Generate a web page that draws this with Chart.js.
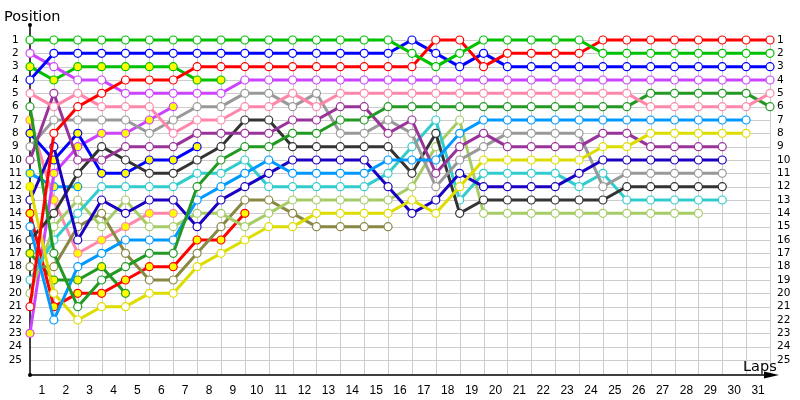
<!DOCTYPE html>
<html>
<head>
<meta charset="utf-8">
<script src="https://cdn.jsdelivr.net/npm/chart.js@4/dist/chart.umd.min.js"></script>
<style>
  html, body { margin: 0; padding: 0; background: #fff; }
  #wrap { width: 800px; height: 400px; }
</style>
</head>
<body>
<div id="wrap"><canvas id="chart" width="800" height="400"></canvas></div>
<script>
// tick labels
const lapLabels = ["1","2","3","4","5","6","7","8","9","10","11","12","13","14","15","16",
  "17","18","19","20","21","22","23","24","25","26","27","28","29","30","31"];
const positionLabels = [1,2,3,4,5,6,7,8,9,10,11,12,13,14,15,16,17,18,19,20,21,22,23,24,25];

// position per lap, index 0 = grid, missing laps = retired
const green1  = [1,1,1,1,1,1,1,1,1,1,1,1,1,1,1,1,2,3,2,1,1,1,1,1,2,2,2,2,2,2,2,2];
const green2  = [3,4,3,3,3,3,3,4,4];
const blue1   = [4,2,2,2,2,2,2,2,2,2,2,2,2,2,2,2,1,2,3,2,3,3,3,3,3,3,3,3,3,3,3,3];
const blue2   = [8,10,8,11,11,10,10,9];
const red1    = [21,8,6,5,4,4,4,3,3,3,3,3,3,3,3,3,3,1,1,3,2,2,2,2,1,1,1,1,1,1,1,1];
const red2    = [14,21,20,20,19,18,18,16,16,14];
const violet1 = [2,3,4,4,5,5,5,5,5,4,4,4,4,4,4,4,4,4,4,4,4,4,4,4,4,4,4,4,4,4,4,4];
const violet2 = [23,11,9,8,8,7,6];
const pink1   = [5,6,5,6,6,6,8,7,7,6,6,5,6,5,5,5,5,5,5,5,5,5,5,5,5,5,6,6,6,6,6,5];
const pink2   = [7,13,17,16,15,14,14];
const forest1 = [6,17,21,19,18,17,17,12,10,9,9,8,8,7,7,6,6,6,6,6,6,6,6,6,6,6,5,5,5,5,5,6];
const forest2 = [17,19,19,18,20];
const grey1   = [9,7,7,7,7,8,7,6,6,5,5,6,5,8,8,7,8,12,10,9,8,8,8,8,12,11,11,11,11,11];
const purple1 = [10,5,10,10,9,9,9,8,8,8,8,7,7,6,6,8,7,11,9,8,9,9,9,9,8,8,9,9,9,9];
const sky1    = [15,22,18,17,16,16,16,13,12,11,10,11,11,11,11,10,10,10,8,7,7,7,7,7,7,7,7,7,7,7,7];
const sky2    = [11,12,12];
const yellow1 = [12,20,22,21,21,20,20,18,17,16,15,15,14,14,14,14,13,14,12,10,10,10,10,10,9,9,8,8,8,8,8];
const navy1   = [13,9,16,13,14,13,13,15,13,12,11,10,10,10,10,12,14,13,11,12,12,12,12,11,10,10,10,10,10,10];
const black1  = [16,14,11,9,10,11,11,10,9,7,7,9,9,9,9,9,11,8,14,13,13,13,13,13,13,12,12,12,12,12];
const cyan1   = [19,16,14,12,12,12,12,11,11,10,12,12,12,12,12,11,9,7,13,11,11,11,11,12,11,13,13,13,13,13];
const olive1  = [18,18,15,14,17,19,19,17,15,13,13,14,15,15,15,15];
const lime1   = [20,15,13,15,13,15,15,14,14,15,14,13,13,13,13,13,12,9,7,14,14,14,14,14,14,14,14,14,14];

const YELLOW = "#ffff00";
const drivers = [
  { data: green1,  color: "#00c000" },
  { data: red1,    color: "#ff0000" },
  { data: blue1,   color: "#0000ff" },
  { data: violet1, color: "#cc44ff" },
  { data: pink1,   color: "#ff88aa" },
  { data: forest1, color: "#229922" },
  { data: sky1,    color: "#0099ff" },
  { data: yellow1, color: "#dddd00", gridFilled: true },
  { data: purple1, color: "#993399" },
  { data: navy1,   color: "#1a00c0" },
  { data: grey1,   color: "#999999" },
  { data: black1,  color: "#333333" },
  { data: cyan1,   color: "#33cccc" },
  { data: lime1,   color: "#a6cc66" },
  { data: olive1,  color: "#888844" },
  { data: green2,  color: "#00c000", filled: true },
  { data: blue2,   color: "#0000ff", filled: true },
  { data: red2,    color: "#ff0000", filled: true },
  { data: violet2, color: "#cc44ff", filled: true },
  { data: pink2,   color: "#ff88aa", filled: true },
  { data: forest2, color: "#229922", filled: true },
  { data: sky2,    color: "#0099ff", filled: true }
];

const datasets = drivers.map(d => ({
  data: d.data.map((p, lap) => ({ x: lap, y: p })).filter(pt => pt.y != null),
  borderColor: d.color,
  backgroundColor: d.color,
  borderWidth: 3,
  pointRadius: 4,
  pointBorderWidth: 1.2,
  pointBorderColor: d.color,
  pointBackgroundColor: ctx => (d.filled || (d.gridFilled && ctx.dataIndex === 0)) ? YELLOW : "#ffffff",
  tension: 0,
  clip: false
}));

// grid, axis lines with arrow, titles
const decor = {
  id: "decor",
  beforeDatasetsDraw(chart) {
    const { ctx, chartArea, scales: { x, y } } = chart;
    const x0 = x.getPixelForValue(0), x1 = x.getPixelForValue(lapLabels.length);
    const yTop = y.getPixelForValue(1), yBot = chartArea.bottom;
    ctx.save();
    ctx.strokeStyle = "#cccccc";
    ctx.lineWidth = 1;
    ctx.beginPath();
    positionLabels.forEach(p => {
      const py = Math.round(y.getPixelForValue(p)) + 0.5;
      ctx.moveTo(x0, py); ctx.lineTo(x1, py);
    });
    for (let l = 1; l <= lapLabels.length; l++) {
      const px = Math.round(x.getPixelForValue(l)) + 0.5;
      ctx.moveTo(px, yTop); ctx.lineTo(px, yBot);
    }
    ctx.stroke();

    // axes
    ctx.strokeStyle = "#000";
    ctx.fillStyle = "#000";
    ctx.lineWidth = 1.5;
    ctx.beginPath();
    ctx.moveTo(x0, chartArea.top); ctx.lineTo(x0, yBot);
    ctx.moveTo(x0, yBot); ctx.lineTo(x1 + 2, yBot);
    ctx.stroke();
    ctx.beginPath();
    ctx.moveTo(x1 - 6, yBot - 3.5);
    ctx.lineTo(x1 + 9, yBot);
    ctx.lineTo(x1 - 6, yBot + 3.5);
    ctx.closePath();
    ctx.fill();
    ctx.beginPath(); ctx.arc(x0, chartArea.top, 2, 0, Math.PI * 2); ctx.fill();
    ctx.beginPath(); ctx.arc(x0, yBot, 2, 0, Math.PI * 2); ctx.fill();

    ctx.font = '14.5px "DejaVu Sans"';
    ctx.textAlign = "left";
    ctx.textBaseline = "alphabetic";
    ctx.fillText("Position", 4, 21);
    ctx.fillText("Laps", 743, 371);
    ctx.restore();
  }
};

const tickFont = { family: "DejaVu Sans", size: 10.5 };

new Chart(document.getElementById("chart"), {
  type: "line",
  data: { datasets },
  plugins: [decor],
  options: {
    responsive: false,
    animation: false,
    layout: { padding: { top: 25, left: 0, right: 0, bottom: 0 } },
    plugins: { legend: { display: false }, tooltip: { enabled: false } },
    scales: {
      x: {
        type: "linear", min: 0, max: lapLabels.length,
        afterFit(s) { s.height = 25; },
        afterBuildTicks(s) { s.ticks = lapLabels.map((t, i) => ({ value: i + 0.5 })); },
        ticks: {
          autoSkip: false, maxRotation: 0, padding: 8, color: "#000",
          font: { family: "Liberation Sans", size: 12 },
          callback: (v, i) => lapLabels[i]
        },
        grid: { display: false, drawTicks: false },
        border: { display: false }
      },
      y: {
        type: "linear", reverse: true, min: -0.125, max: 26.125, position: "left",
        afterFit(s) { s.width = 30; },
        afterBuildTicks(s) { s.ticks = positionLabels.map(v => ({ value: v })); },
        ticks: { autoSkip: false, padding: 8, crossAlign: "center", color: "#000", font: tickFont },
        grid: { display: false, drawTicks: false },
        border: { display: false }
      },
      yRight: {
        type: "linear", reverse: true, min: -0.125, max: 26.125, position: "right",
        afterFit(s) { s.width = 30; },
        afterBuildTicks(s) { s.ticks = positionLabels.map(v => ({ value: v })); },
        ticks: { autoSkip: false, padding: 7, color: "#000", font: tickFont },
        grid: { display: false, drawTicks: false },
        border: { display: false }
      }
    }
  }
});
</script>
</body>
</html>
